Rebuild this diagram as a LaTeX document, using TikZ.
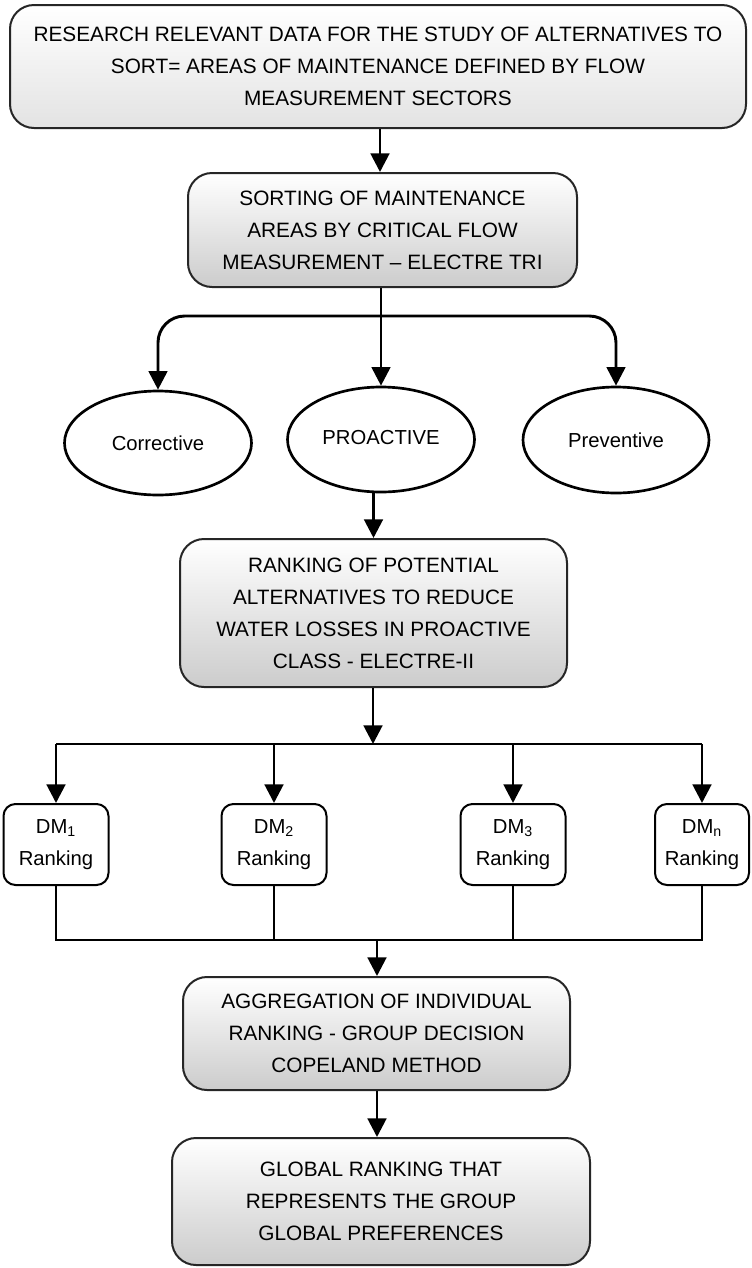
\documentclass[tikz,border=0pt]{standalone}
\usepackage{fontspec}
\setmainfont{Liberation Sans}
\usetikzlibrary{shapes.geometric,arrows.meta}

\tikzset{
  stage/.style={draw=black!85, line width=1.5pt, rounded corners=18pt,
    top color=white, bottom color=gray!40, align=center, inner sep=0pt,
    font=\fontsize{15.6pt}{24pt}\selectfont},
  dmbox/.style={draw, line width=1.5pt, rounded corners=9pt, fill=white,
    align=center, inner sep=0pt, minimum width=78.75pt, minimum height=60.75pt,
    font=\fontsize{15.2pt}{24pt}\selectfont},
  classnode/.style={ellipse, draw, line width=2pt, fill=white, inner sep=0pt,
    minimum width=140.25pt, minimum height=78pt,
    font=\fontsize{15.2pt}{18pt}\selectfont},
  arr/.style={line width=2.2pt, -{Triangle[length=14pt,width=14pt]}},
  bus/.style={line width=2.2pt},
}

\begin{document}
\begin{tikzpicture}[x=0.75pt,y=-0.75pt]
    \useasboundingbox (0,0) rectangle (751,1268);

    % stages of the method
    \node[stage, bottom color=gray!22, minimum width=552pt, minimum height=92.25pt] (res) at (378,66.5)
        {RESEARCH RELEVANT DATA FOR THE STUDY OF ALTERNATIVES TO\\
         SORT= AREAS OF MAINTENANCE DEFINED BY FLOW\\
         MEASUREMENT SECTORS};
    \node[stage, minimum width=291.75pt, minimum height=85.5pt] (sort) at (382.5,230)
        {SORTING OF MAINTENANCE\\ AREAS BY CRITICAL FLOW\\ MEASUREMENT -- ELECTRE TRI};

    \node[classnode] (corr) at (158,443) {Corrective};
    \node[classnode, minimum height=78.75pt] (pro) at (381,439.5) {\raisebox{3pt}{PROACTIVE}};
    \node[classnode, minimum width=139.5pt, minimum height=79.5pt] (prev) at (616,440) {Preventive};

    \node[stage, minimum width=290.25pt, minimum height=111pt] (rank) at (373.5,613)
        {RANKING OF POTENTIAL\\ ALTERNATIVES TO REDUCE\\ WATER LOSSES IN PROACTIVE\\ CLASS - ELECTRE-II};

    \node[dmbox] (dm1) at (56,844.5) {DM\textsubscript{1}\\Ranking};
    \node[dmbox] (dm2) at (274,844.5) {DM\textsubscript{2}\\Ranking};
    \node[dmbox] (dm3) at (513,844.5) {DM\textsubscript{3}\\Ranking};
    \node[dmbox, minimum width=70.5pt] (dmn) at (702,844.5) {DM\textsubscript{n}\\Ranking};

    \node[stage, minimum width=290.25pt, minimum height=84.75pt] (agg) at (376.5,1033.5)
        {AGGREGATION OF INDIVIDUAL\\ RANKING - GROUP DECISION\\ COPELAND METHOD};
    \node[stage, minimum width=313.5pt, minimum height=95.25pt] (glob) at (381,1201.5)
        {GLOBAL RANKING THAT\\ REPRESENTS THE GROUP\\ GLOBAL PREFERENCES};

    % connectors
    \coordinate (split) at (381,316);
    \coordinate (bus1) at (373,744);
    \coordinate (bus2) at (377,940);

    \draw[arr] (res.south -| 380,0) -- (sort.north -| 380,0);
    \draw[bus] (sort.south -| split) -- (split);
    \draw[arr, rounded corners=20pt] (split) -| (corr.north);
    \draw[arr, rounded corners=20pt] (split) -| (prev.north);
    \draw[arr] (split) -- (pro.north);
    \draw[arr] (pro.south -| rank.north) -- (rank.north);

    \draw[arr] (rank.south -| bus1) -- (bus1);
    \draw[bus] (dm1.north |- bus1) -- (dmn.north |- bus1);
    \foreach \d in {dm1,dm2,dm3,dmn}
        \draw[arr] (\d.north |- bus1) -- (\d.north);

    \draw[bus] (dm1.south) -- (dm1.south |- bus2) -- (dmn.south |- bus2) -- (dmn.south);
    \draw[bus] (dm2.south) -- (dm2.south |- bus2);
    \draw[bus] (dm3.south) -- (dm3.south |- bus2);
    \draw[arr] (bus2) -- (agg.north -| bus2);
    \draw[arr] (agg.south -| bus2) -- (glob.north -| bus2);
\end{tikzpicture}
\end{document}
